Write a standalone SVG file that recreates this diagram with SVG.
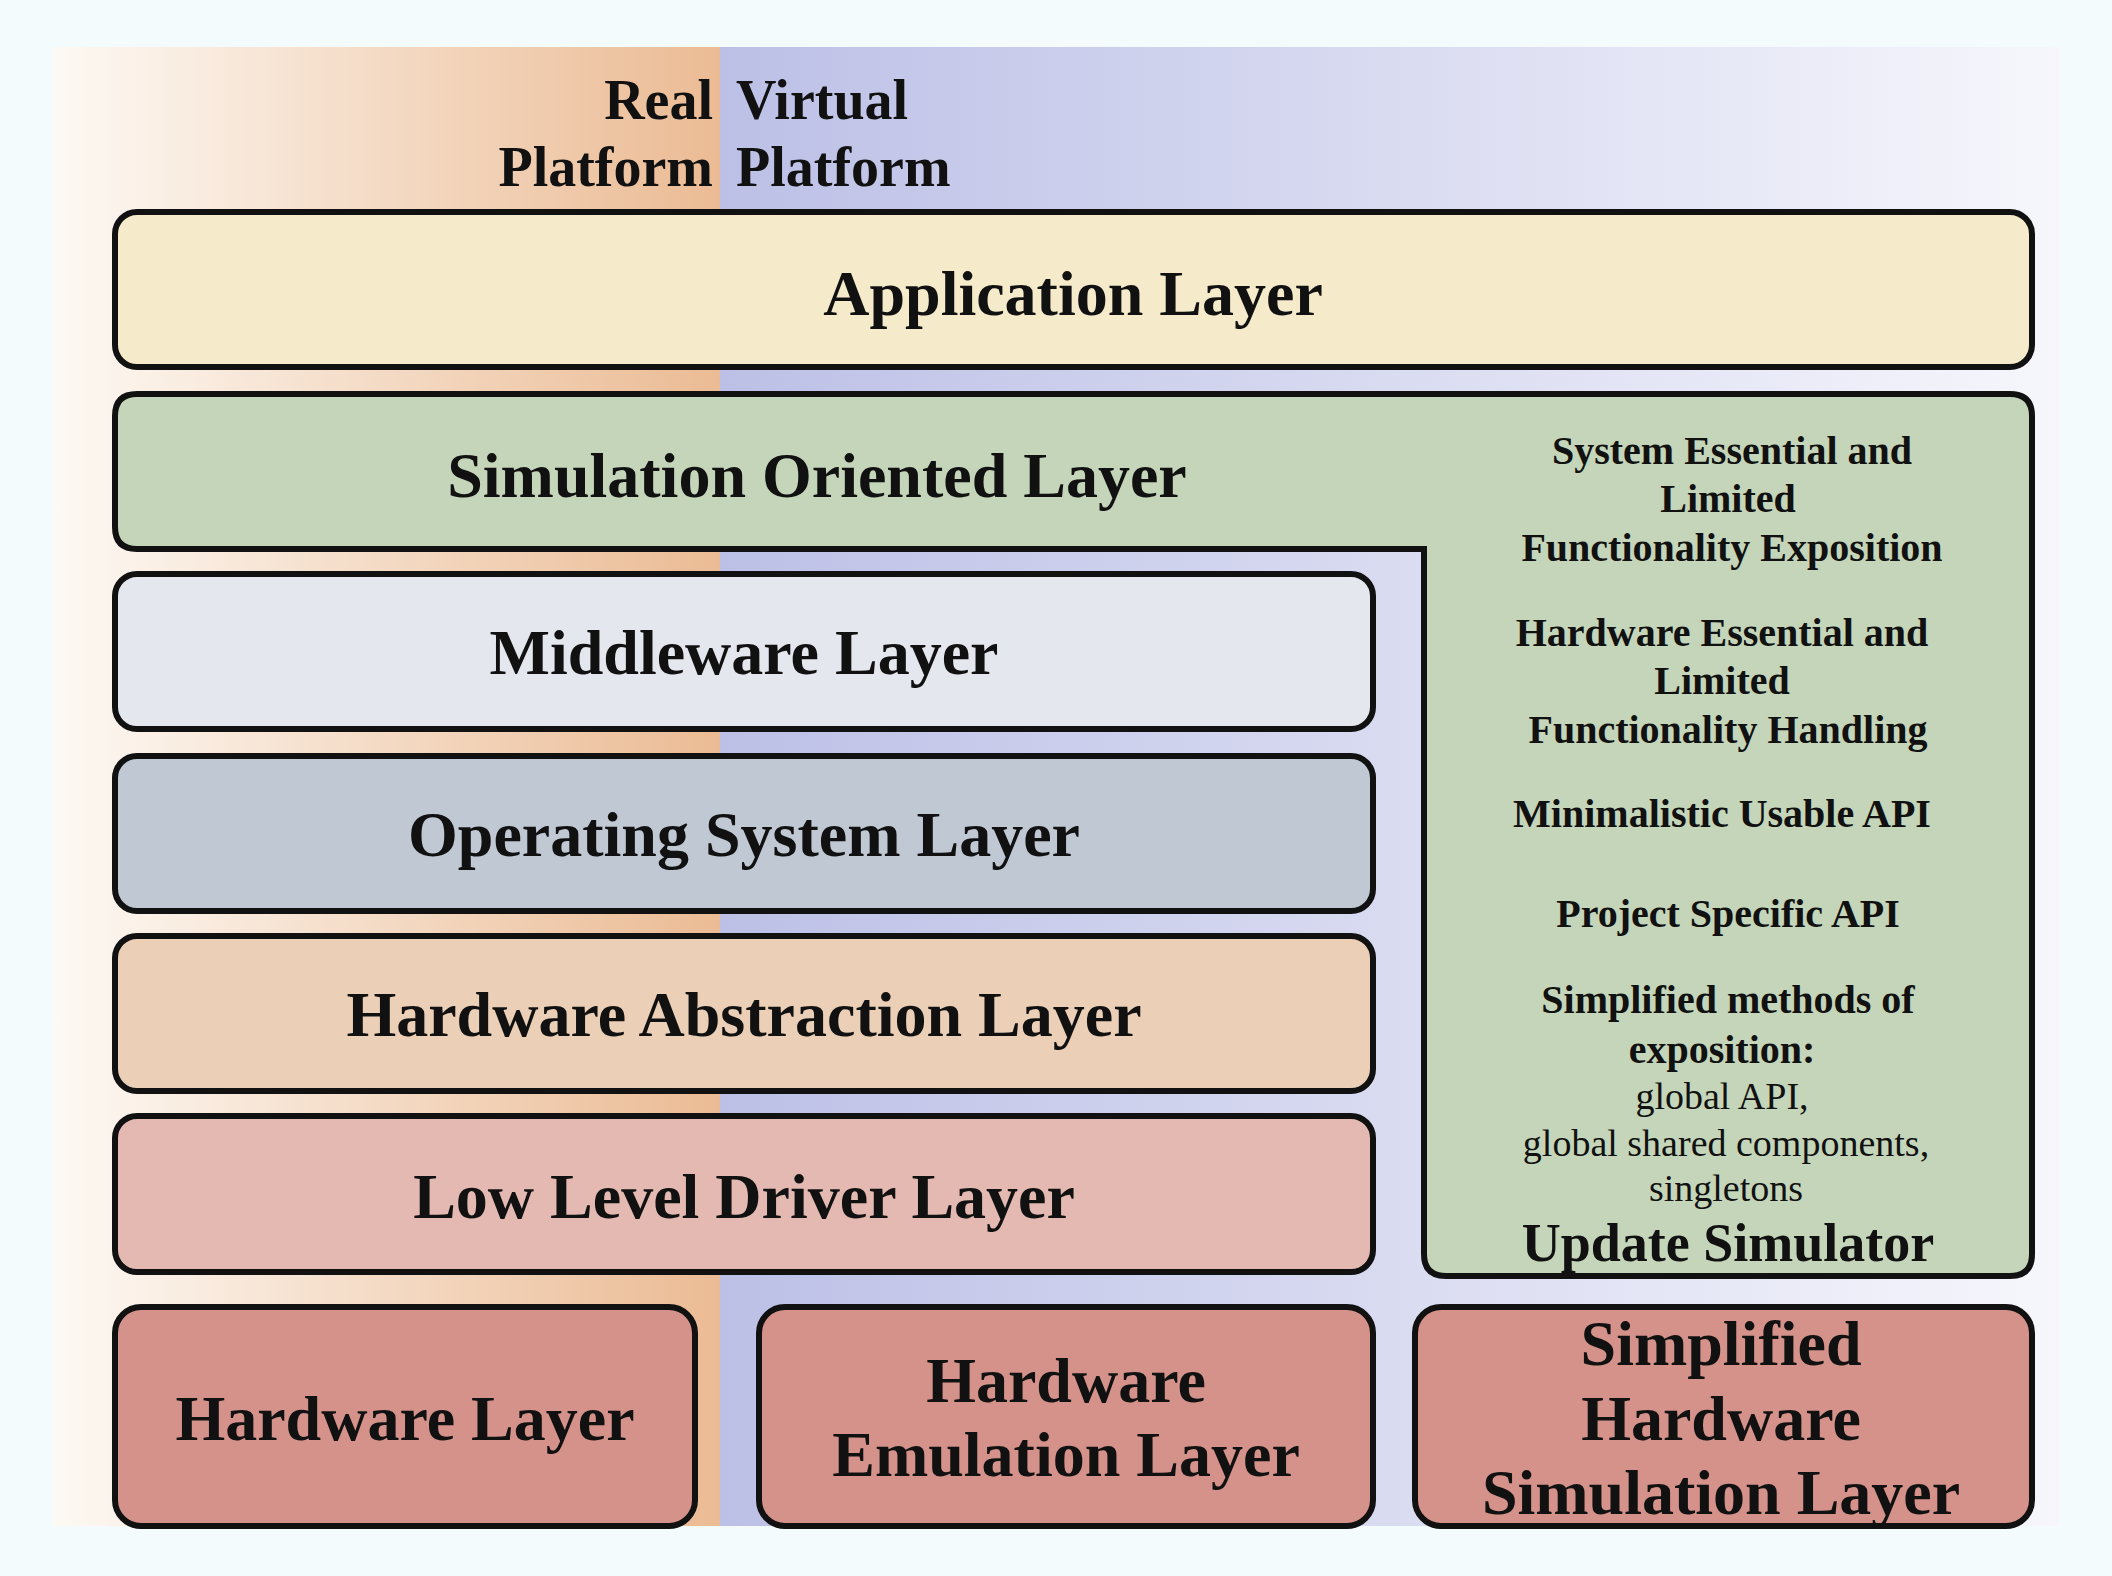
<svg xmlns="http://www.w3.org/2000/svg" width="2112" height="1576" viewBox="0 0 2112 1576">
<defs>
<linearGradient id="gl" x1="0" x2="1" y1="0" y2="0"><stop offset="0" stop-color="#fdf9f4"/><stop offset="1" stop-color="#ebbb94"/></linearGradient>
<linearGradient id="gr" x1="0" x2="1" y1="0" y2="0"><stop offset="0" stop-color="#bcc0e6"/><stop offset="1" stop-color="#f6f6fc"/></linearGradient>
<style>
.b{stroke:#111;stroke-width:6}
.t{font-family:"Liberation Serif",serif;font-weight:bold;fill:#111;text-anchor:middle}
.L{font-size:64px}
.s{font-size:40px}
.r{font-size:38px;font-weight:normal}
</style>
</defs>
<rect width="2112" height="1576" fill="#f3fbfc"/>
<rect x="54" y="47" width="666" height="1479" fill="url(#gl)"/>
<rect x="720" y="47" width="1339" height="1479" fill="url(#gr)"/>
<g id="header" class="t" style="font-size:56px">
<text x="713" y="119" text-anchor="end">Real</text>
<text x="713" y="186" text-anchor="end">Platform</text>
<text x="736" y="119" text-anchor="start">Virtual</text>
<text x="736" y="186" text-anchor="start">Platform</text>
</g>
<g id="app"><rect class="b" x="115" y="212" width="1917" height="155" rx="22" fill="#f5ebcb"/><text class="t L" x="1073" y="315">Application Layer</text></g>
<g id="sim">
<path class="b" fill="#c4d5b9" d="M137 394 H2010 Q2032 394 2032 416 V1254 Q2032 1276 2010 1276 H1446 Q1424 1276 1424 1254 V549 H137 Q115 549 115 527 V416 Q115 394 137 394 Z"/>
<text class="t L" x="817" y="497">Simulation Oriented Layer</text>
<g class="t s">
<text x="1732" y="464">System Essential and</text>
<text x="1728" y="512">Limited</text>
<text x="1732" y="561">Functionality Exposition</text>
<text x="1722" y="646">Hardware Essential and</text>
<text x="1722" y="694">Limited</text>
<text x="1728" y="743">Functionality Handling</text>
<text x="1722" y="827">Minimalistic Usable API</text>
<text x="1728" y="927">Project Specific API</text>
<text x="1728" y="1013">Simplified methods of</text>
<text x="1722" y="1063">exposition:</text>
</g>
<g class="t r">
<text x="1722" y="1109">global API,</text>
<text x="1726" y="1156">global shared components,</text>
<text x="1726" y="1201">singletons</text>
</g>
<text class="t" style="font-size:54px" x="1728" y="1261">Update Simulator</text>
</g>
<g id="mw"><rect class="b" x="115" y="574" width="1258" height="155" rx="22" fill="#e4e7ed"/><text class="t L" x="744" y="674">Middleware Layer</text></g>
<g id="os"><rect class="b" x="115" y="756" width="1258" height="155" rx="22" fill="#bfc8d3"/><text class="t L" x="744" y="856">Operating System Layer</text></g>
<g id="hal"><rect class="b" x="115" y="936" width="1258" height="155" rx="22" fill="#ebcfb6"/><text class="t L" x="744" y="1036">Hardware Abstraction Layer</text></g>
<g id="lld"><rect class="b" x="115" y="1116" width="1258" height="156" rx="22" fill="#e3b9b1"/><text class="t L" x="744" y="1218">Low Level Driver Layer</text></g>
<g id="hw"><rect class="b" x="115" y="1307" width="580" height="219" rx="26" fill="#d4928a"/><text class="t L" x="405" y="1440">Hardware Layer</text></g>
<g id="emu"><rect class="b" x="759" y="1307" width="614" height="219" rx="26" fill="#d4928a"/><text class="t L" x="1066" y="1402">Hardware</text><text class="t L" x="1066" y="1476">Emulation Layer</text></g>
<g id="shs"><rect class="b" x="1415" y="1307" width="617" height="219" rx="26" fill="#d4928a"/><text class="t L" x="1721" y="1365">Simplified</text><text class="t L" x="1721" y="1440">Hardware</text><text class="t L" x="1721" y="1514">Simulation Layer</text></g>
<g id="connectors"/>
</svg>
